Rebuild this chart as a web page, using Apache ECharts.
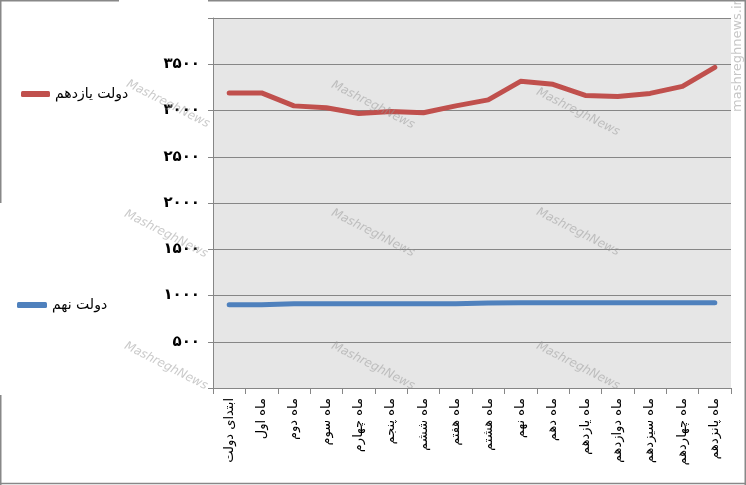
<!DOCTYPE html>
<html>
<head>
<meta charset="utf-8">
<script src="https://cdn.jsdelivr.net/npm/echarts@6/dist/echarts.min.js"></script>
<style>
html,body{margin:0;padding:0;background:#fff;}
#c{width:746px;height:485px;}
</style>
</head>
<body>
<div id="c"></div>
<script>
var categories = ['ابتدای دولت','ماه اول','ماه دوم','ماه سوم','ماه چهارم','ماه پنجم','ماه ششم','ماه هفتم','ماه هشتم','ماه نهم','ماه دهم','ماه یازدهم','ماه دوازدهم','ماه سیزدهم','ماه چهاردهم','ماه پانزدهم'];
var seriesNames = ['دولت یازدهم','دولت نهم'];
var valuesEleventh = [3190, 3190, 3050, 3030, 2967, 2990, 2975, 3050, 3115, 3315, 3283, 3163, 3152, 3185, 3261, 3467];
var valuesNinth = [900, 900, 910, 912, 912, 912, 912, 912, 920, 922, 922, 922, 922, 922, 922, 922];
var yTicks = {0:'', 500:'۵۰۰', 1000:'۱۰۰۰', 1500:'۱۵۰۰', 2000:'۲۰۰۰', 2500:'۲۵۰۰', 3000:'۳۰۰۰', 3500:'۳۵۰۰', 4000:''};
var watermark = 'MashreghNews';

var FONT = 'DejaVu Sans';
var chart = echarts.init(document.getElementById('c'), null, {renderer:'canvas'});

var wmPositions = [[168,104],[373,105],[578,112],[166,234],[373,233],[578,232],[166,366],[373,366],[578,366]];
var graphics = wmPositions.map(function(p){
  return {type:'text', x:p[0], y:p[1], rotation:-0.47, z:100, silent:true,
    style:{text:watermark, fill:'rgba(150,150,150,0.5)', font:'italic 12px "DejaVu Sans"', align:'center', verticalAlign:'middle'}};
});
graphics.push({type:'text', x:738, y:56, rotation:Math.PI/2, z:100, silent:true,
  style:{text:'mashreghnews.ir', fill:'rgba(160,160,160,0.6)', font:'13px "DejaVu Sans"', align:'center', verticalAlign:'middle'}});
var borderStyle = {stroke:'#888', lineWidth:1.5};
[[0,0.75,119,0.75],[208,0.75,746,0.75],[0.75,0,0.75,203],[0.75,395,0.75,485],[0,483.5,746,483.5],[745.25,0,745.25,485]].forEach(function(s){
  graphics.push({type:'line', silent:true, z:50, shape:{x1:s[0],y1:s[1],x2:s[2],y2:s[3]}, style:borderStyle});
});

chart.setOption({
  animation:false,
  backgroundColor:'#ffffff',
  grid:{left:213, right:15, top:18, bottom:97, show:true, backgroundColor:'#e6e6e6', borderWidth:0},
  legend:[
    {data:[seriesNames[0]], left:16, top:82, itemWidth:29, itemHeight:6, icon:'roundRect',
     textStyle:{fontFamily:FONT, fontSize:14, color:'#000'}},
    {data:[seriesNames[1]], left:12, top:293, itemWidth:30, itemHeight:6, icon:'roundRect',
     textStyle:{fontFamily:FONT, fontSize:14, color:'#000'}}
  ],
  xAxis:{
    type:'category', data:categories, boundaryGap:true,
    axisLine:{lineStyle:{color:'#868686', width:1}},
    axisTick:{show:true, interval:0, length:6, lineStyle:{color:'#868686'}},
    axisLabel:{interval:0, rotate:90, margin:10, color:'#000', fontFamily:FONT, fontSize:13}
  },
  yAxis:{
    type:'value', min:0, max:4000, interval:500,
    axisLine:{show:true, lineStyle:{color:'#868686', width:1}},
    axisTick:{show:true, length:5, lineStyle:{color:'#868686'}},
    splitLine:{show:true, lineStyle:{color:'#868686', width:1}},
    axisLabel:{margin:13, color:'#000', fontFamily:FONT, fontSize:15, fontWeight:'bold',
      formatter:function(v){ return yTicks[v] !== undefined ? yTicks[v] : ''; }}
  },
  series:[
    {name:seriesNames[0], type:'line', data:valuesEleventh, symbol:'none',
     itemStyle:{color:'#c0504d'}, lineStyle:{color:'#c0504d', width:5, cap:'round', join:'round'}},
    {name:seriesNames[1], type:'line', data:valuesNinth, symbol:'none',
     itemStyle:{color:'#4f81bd'}, lineStyle:{color:'#4f81bd', width:5, cap:'round', join:'round'}}
  ],
  graphic:graphics
});
</script>
</body>
</html>
